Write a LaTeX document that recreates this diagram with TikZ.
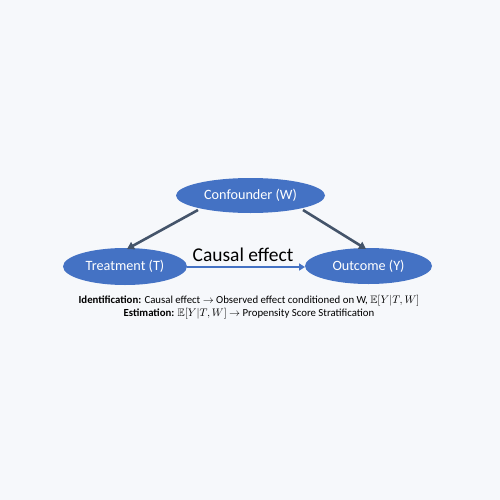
\documentclass[tikz,border=0pt]{standalone}
\usepackage{amssymb}
\usepackage{fontspec}
\setmainfont{Carlito}
\usetikzlibrary{arrows.meta,shapes.geometric}
\definecolor{bg}{HTML}{F6F8FB}
\definecolor{nodeblue}{HTML}{4472C4}
\definecolor{edgegray}{HTML}{44546A}
\tikzset{
  ell/.style={ellipse, fill=nodeblue, text=white, inner sep=0pt, font=\fontsize{14.2}{16}\selectfont},
  conf/.style={draw=edgegray, line width=2.6pt, -{Triangle[length=7pt,width=8pt]}},
  causal/.style={draw=nodeblue, line width=1.8pt, -{Triangle[length=6pt,width=7pt]}},
  caption/.style={font=\fontsize{10.8}{12}\selectfont, text=black},
}
\begin{document}
\begin{tikzpicture}[x=1pt,y=-1pt]
\fill[bg] (0,0) rectangle (500,500);
\useasboundingbox (0,0) rectangle (500,500);
\node[ell, minimum width=149, minimum height=35] (W) at (250.5,195.5) {Confounder (W)};
\node[ell, minimum width=124, minimum height=37] (T) at (125,266.5) {Treatment (T)};
\node[ell, minimum width=127, minimum height=36] (Y) at (368.5,266) {Outcome (Y)};
\coordinate (Wl) at (198,210);
\coordinate (Wr) at (303,210);
\coordinate (Tt) at (127,249);
\coordinate (Yt) at (366,249);
\coordinate (Tr) at (187,267);
\coordinate (Yl) at (305,267);
\draw[conf] (Wl) -- (Tt);
\draw[conf] (Wr) -- (Yt);
\draw[causal] (Tr) -- (Yl);
\node[font=\fontsize{19.5}{22}\selectfont, text=black] (ce) at (243,255) {Causal effect};
\node[caption, inner sep=0pt] (cap1) at (249,301)
  {\textbf{Identification:} Causal effect $\rightarrow$ Observed effect conditioned on W, $\mathbb{E}[Y|T,W]$};
\node[caption, inner sep=0pt] (cap2) at (249,313.5)
  {\textbf{Estimation:} $\mathbb{E}[Y|T,W]$ $\rightarrow$ Propensity Score Stratification};
\end{tikzpicture}
\end{document}
